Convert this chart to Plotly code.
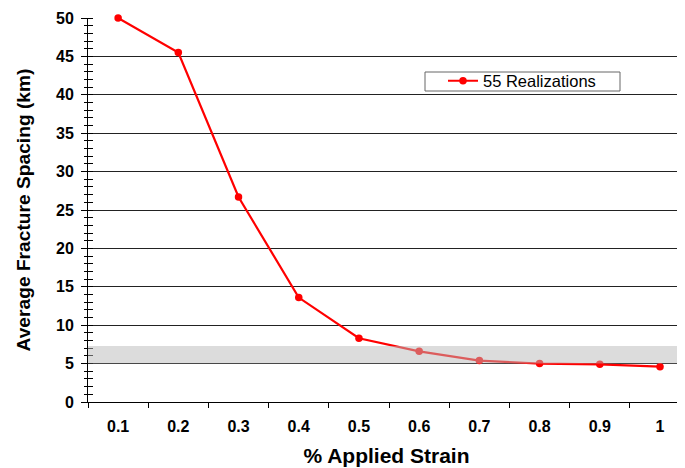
import plotly.graph_objects as go

strain = [0.1, 0.2, 0.3, 0.4, 0.5, 0.6, 0.7, 0.8, 0.9, 1.0]
spacing = [50.0, 45.5, 26.7, 13.6, 8.3, 6.6, 5.4, 5.0, 4.9, 4.6]
tick_labels = ["0.1", "0.2", "0.3", "0.4", "0.5", "0.6", "0.7", "0.8", "0.9", "1"]
band_low, band_high = 5.0, 7.3
series_name = "55 Realizations"

FONT = "Liberation Sans, Arial, sans-serif"

fig = go.Figure()
fig.add_trace(go.Scatter(
    x=strain, y=spacing, mode="lines+markers", name=series_name,
    line=dict(color="#FF0000", width=2.2),
    marker=dict(color="#FF0000", size=7.5),
    cliponaxis=False,
))
# invisible trace to enable overlay axis
fig.add_trace(go.Scatter(x=[strain[0]], y=[spacing[0]], yaxis="y2", mode="markers",
                         marker=dict(opacity=0), showlegend=False, hoverinfo="skip"))

fig.add_shape(type="rect", xref="paper", x0=0, x1=1, yref="y", y0=band_low, y1=band_high,
              fillcolor="rgba(185,185,185,0.5)", line=dict(width=0), layer="above")
# legend frame
fig.add_shape(type="rect", xref="paper", yref="paper",
              x0=(425 - 88) / 597, x1=(620 - 88) / 597,
              y0=(402 - 91) / 384, y1=(402 - 72) / 384,
              fillcolor="white", line=dict(color="#666666", width=1), layer="above")

fig.update_layout(
    width=677, height=460,
    margin=dict(l=80, r=0, t=10, b=66),
    paper_bgcolor="white", plot_bgcolor="white",
    font=dict(family=FONT, color="black"),
    showlegend=True,
    legend=dict(x=(443 - 88) / 597, y=(402 - 81) / 384, xanchor="left", yanchor="middle",
                borderwidth=0, bgcolor="rgba(0,0,0,0)",
                font=dict(size=16.5, family=FONT), itemwidth=30,
                tracegroupgap=0),
    xaxis=dict(
        range=[0.05, 1.0415], tickvals=strain, ticktext=["<b>%s</b>" % t for t in tick_labels], ticks="",
        showgrid=False, zeroline=False, automargin=False,
        showline=True, linecolor="black", linewidth=1,
        tickfont=dict(size=16, family=FONT), ticklabelstandoff=10,
        minor=dict(tick0=0.05, dtick=0.1, ticks="outside", ticklen=5, tickcolor="black", showgrid=False),
        title=dict(text="<b>% Applied Strain</b>", font=dict(size=21), standoff=14),
    ),
    yaxis=dict(
        range=[0, 50], dtick=5, ticks="outside", ticklen=6, tickcolor="black",
        showgrid=True, gridcolor="#222222", gridwidth=1, zeroline=False, automargin=False,
        showline=True, linecolor="black", linewidth=1,
        tickfont=dict(size=16, family=FONT), ticklabelstandoff=4,
        tickprefix="<b>", ticksuffix="</b>",
        minor=dict(dtick=1, ticks="inside", ticklen=5, tickcolor="black", showgrid=False),
        title=dict(text="<b>Average Fracture Spacing (km)</b>", font=dict(size=19.2), standoff=20),
    ),
    yaxis2=dict(
        range=[0, 50], overlaying="y", side="left", showgrid=False, showticklabels=False,
        ticks="", zeroline=False, showline=False, automargin=False,
        minor=dict(dtick=1, ticks="outside", ticklen=3, tickcolor="black", showgrid=False),
    ),
)

fig.write_html("out.html")
